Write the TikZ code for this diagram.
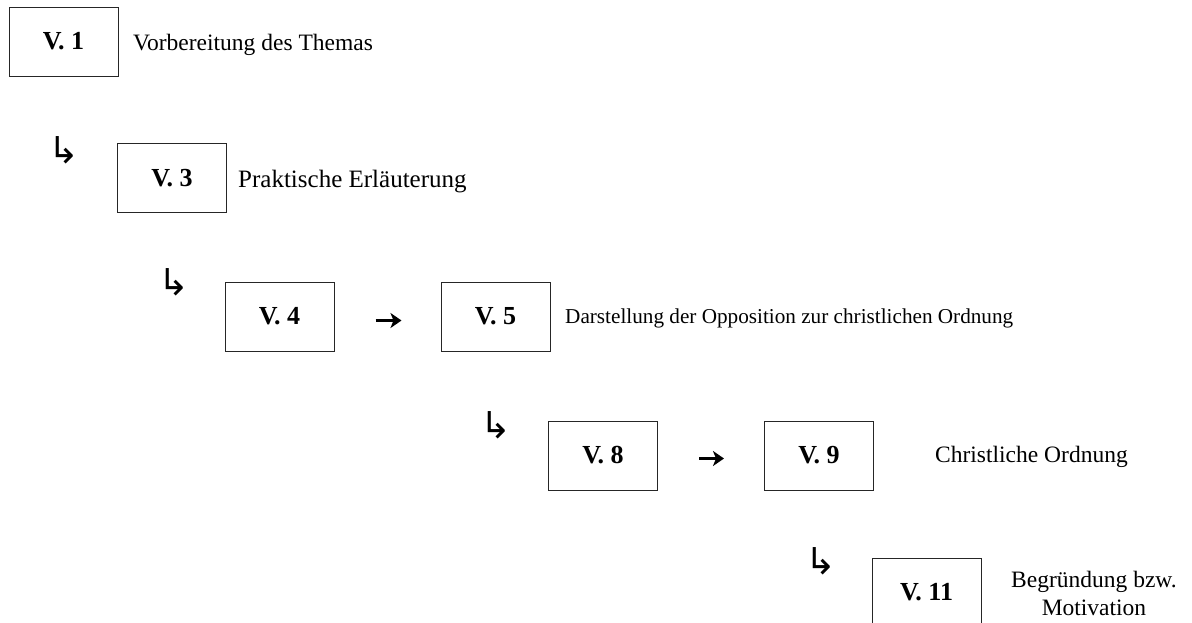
\documentclass[tikz,border=0pt]{standalone}
\usepackage{fontspec}
\setmainfont{Liberation Serif}
\newfontfamily\symfont{DejaVu Sans}
\usetikzlibrary{arrows.meta}
\begin{document}
\begin{tikzpicture}[x=1pt,y=-1pt,
  vbox/.style={draw=black!85, line width=1pt, minimum width=109pt,
    minimum height=69pt, inner sep=0pt,
    font=\fontsize{26}{30}\selectfont\bfseries},
  note/.style={anchor=base west, inner sep=0pt,
    font=\fontsize{23.5}{28}\selectfont},
  turn/.style={inner sep=0pt, font=\symfont\fontsize{37}{39}\selectfont},
  flow/.style={line width=3pt, -{Stealth[length=11pt,width=15pt,inset=3pt]}}]
\clip (0,0) rectangle (1192,622);

% level boxes
\node[vbox] (v1)  at (63.5,41.5)  {V. 1};
\node[vbox] (v3)  at (172,178)    {V. 3};
\node[vbox] (v4)  at (279.5,316.5){V. 4};
\node[vbox] (v5)  at (495.5,316.5){V. 5};
\node[vbox] (v8)  at (603,455.5)  {V. 8};
\node[vbox] (v9)  at (819,455.5)  {V. 9};
\node[vbox] (v11) at (926.5,592.5){V. 11};

% descriptions
\node[note] (t1) at (133,50)  {Vorbereitung des Themas};
\node[note, font=\fontsize{25}{28}\selectfont] (t3) at (238,187) {Praktische Erläuterung};
\node[note, font=\fontsize{21.2}{26}\selectfont] (t5) at (565,323) {Darstellung der Opposition zur christlichen Ordnung};
\node[note] (t9) at (935,462) {Christliche Ordnung};
\node[inner sep=0pt, align=center, font=\fontsize{23.5}{28}\selectfont]
  (t11) at (1094,593) {Begründung bzw.\\Motivation};

% step-down marks
\node[turn] (d1) at (64,150)  {↳};
\node[turn] (d2) at (174,282) {↳};
\node[turn] (d3) at (496,425) {↳};
\node[turn] (d4) at (821,561) {↳};

% sideways steps
\draw[flow, shorten <=41pt, shorten >=39pt]
  ([yshift=-4pt]v4.east) -- ([yshift=-4pt]v5.west);
\draw[flow, shorten <=41pt, shorten >=40pt]
  ([yshift=-3pt]v8.east) -- ([yshift=-3pt]v9.west);
\end{tikzpicture}
\end{document}
